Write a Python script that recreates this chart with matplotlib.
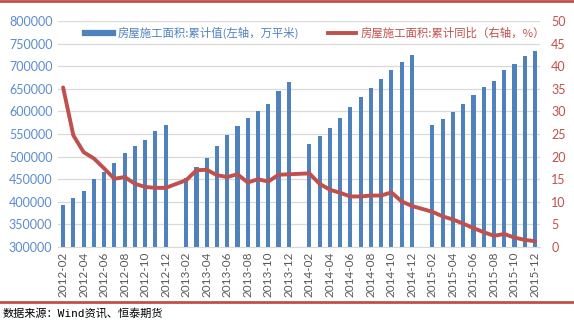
import matplotlib.pyplot as plt
from matplotlib.lines import Line2D
import numpy as np

plt.rcParams['font.family'] = ['Lato', 'Noto Sans CJK SC', 'DejaVu Sans']

# months, Jan is empty each year
months = []
for yr in [2012, 2013, 2014, 2015]:
    for m in range(1, 13):
        if yr == 2012 and m == 1:
            continue
        months.append("%d-%02d" % (yr, m))

nan = np.nan
area = [394000, 408000, 425000, 450000, 466000, 487000, 509000, 523000, 536000, 556000, 571000,
        nan, 452000, 477000, 498000, 523000, 547000, 567000, 585000, 602000, 616000, 645000, 664000,
        nan, 527000, 545000, 563000, 585000, 609000, 631000, 651000, 671000, 691000, 709000, 724000,
        nan, 569000, 583000, 598000, 616000, 636000, 653000, 667000, 691000, 706000, 722000, 733000]
yoy = [35.3, 24.7, 21.0, 19.6, 17.4, 15.1, 15.5, 14.0, 13.3, 13.1, 13.1,
       nan, 14.8, 17.0, 17.1, 15.9, 15.5, 16.1, 14.3, 15.0, 14.5, 16.0, 16.1,
       nan, 16.3, 14.0, 12.7, 12.0, 11.2, 11.2, 11.4, 11.4, 12.1, 10.1, 9.1,
       nan, 7.8, 6.8, 6.1, 5.2, 4.2, 3.3, 2.5, 2.9, 2.1, 1.6, 1.3]

blue = '#4F81BD'
red = '#C0504D'

fig = plt.figure(figsize=(5.74, 3.23), dpi=100)
ax = fig.add_axes([0.101, 0.235, 0.840, 0.700])
ax2 = ax.twinx()

x = np.arange(len(months))
area = np.array(area)
yoy = np.array(yoy)

ax.bar(x, np.nan_to_num(area, nan=0), width=0.4, color=blue, zorder=2)
ok = ~np.isnan(yoy)
ax2.plot(x[ok], yoy[ok], color=red, lw=2.8, zorder=3, solid_capstyle='round')

ax.set_xlim(-0.5, len(months) - 0.5)
ax.set_ylim(300000, 800000)
ax.set_yticks(np.arange(300000, 800001, 50000))
ax2.set_ylim(0, 50)
ax2.set_yticks(np.arange(0, 51, 5))

ax.set_xticks(x[::2])
ax.set_xticklabels(months[::2], rotation=90, fontsize=8.5, color='#595959')
ax.tick_params(axis='y', labelsize=9, colors='#5B8BD0', length=0, pad=4)
ax2.tick_params(axis='y', labelsize=9, colors=red, length=0, pad=8)
ax.tick_params(axis='x', length=0, pad=3)

ax.grid(axis='y', color='#D9D9D9', lw=0.9, zorder=0)
ax.set_axisbelow(True)
for a in (ax, ax2):
    for s in a.spines.values():
        s.set_visible(False)
ax.spines['bottom'].set_visible(True)
ax.spines['bottom'].set_color('#D9D9D9')

# legend
handles = [Line2D([0], [0], color=blue, lw=4.5),
           Line2D([0], [0], color=red, lw=2.8)]
labels = ['房屋施工面积:累计值(左轴，万平米)', '房屋施工面积:累计同比（右轴，%）']
leg = ax2.legend(handles, labels, loc='upper center', bbox_to_anchor=(0.533, 1.02), ncol=2,
                 frameon=False, handlelength=2.4, handletextpad=0.4, columnspacing=2.6,
                 prop={'family': ['Noto Sans CJK SC'], 'size': 8.2})
for t, c in zip(leg.get_texts(), [blue, red]):
    t.set_color(c)

# red border lines and source
fig.add_artist(Line2D([0, 1], [0.996, 0.996], color=red, lw=2, transform=fig.transFigure))
fig.add_artist(Line2D([0, 1], [0.065, 0.065], color=red, lw=2, transform=fig.transFigure))
fig.text(0.005, 0.03, '数据来源：Wind资讯、恒泰期货', fontsize=8,
         family=['DejaVu Sans Mono', 'Noto Sans CJK SC'], va='center', ha='left', color='black')

fig.savefig('out.png', dpi=100)
